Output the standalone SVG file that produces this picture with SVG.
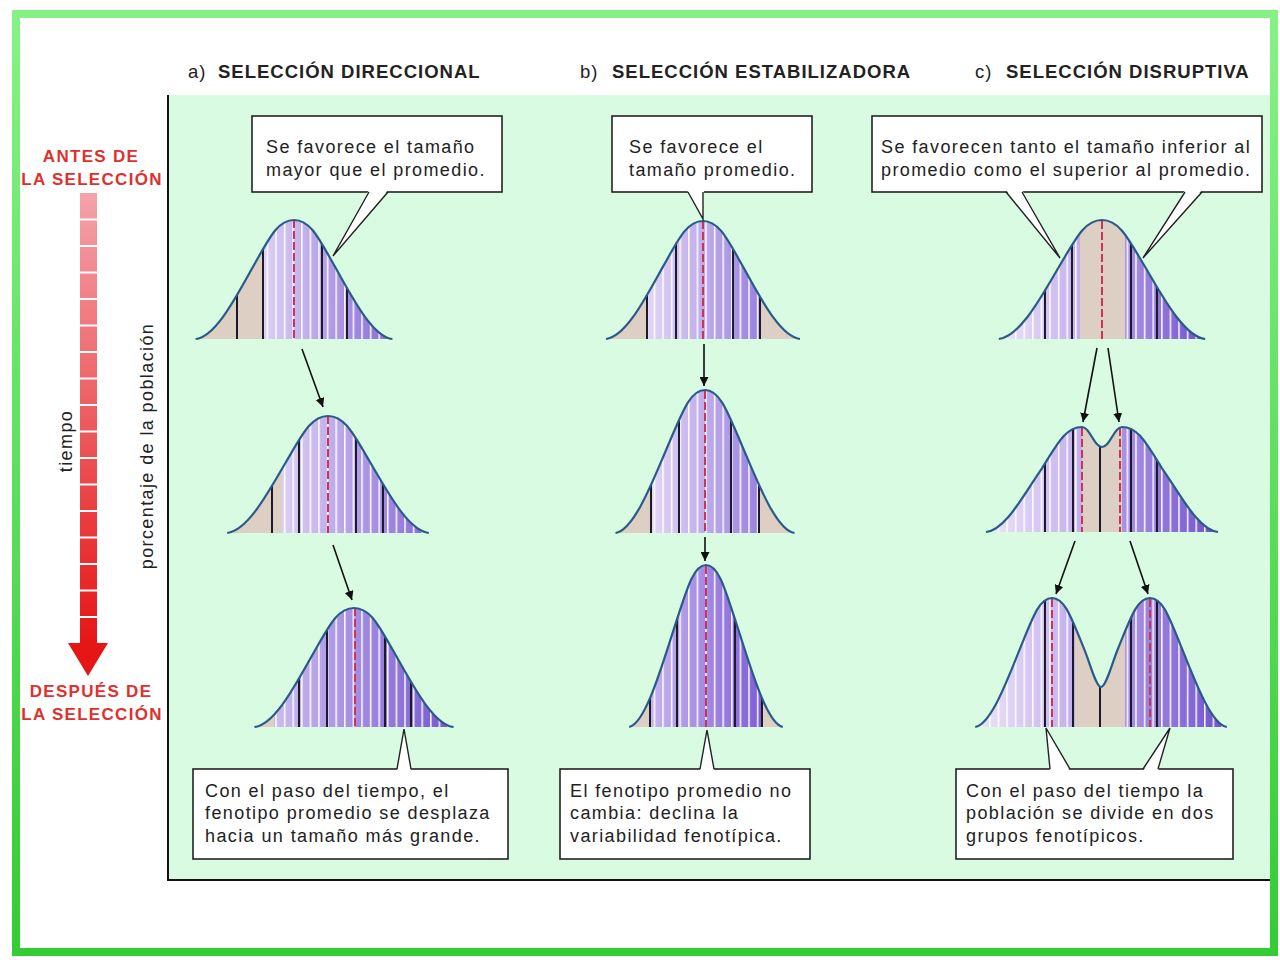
<svg xmlns="http://www.w3.org/2000/svg" xmlns:xlink="http://www.w3.org/1999/xlink" width="1280" height="960" viewBox="0 0 1280 960">
<style>
.hd{font-family:"Liberation Sans",Arial,sans-serif;font-size:18.5px;fill:#222;letter-spacing:1px}
.hb{font-weight:bold}
.red{font-family:"Liberation Sans",Arial,sans-serif;font-size:17px;font-weight:bold;fill:#e0302e;letter-spacing:1.3px;text-anchor:middle}
.lbl{font-family:"Liberation Sans",Arial,sans-serif;font-size:18px;fill:#222;letter-spacing:1.4px;text-anchor:middle}
.bt{font-family:"Liberation Sans",Arial,sans-serif;font-size:18px;fill:#222;letter-spacing:1.4px}
.box{fill:#fff;stroke:#222;stroke-width:1.6}
.tw{fill:#fff;stroke:none}
.tl{stroke:#222;stroke-width:1.4;fill:none}
.ol{fill:none;stroke:#2a5a88;stroke-width:2.2;stroke-linejoin:round}
.bk{stroke:#1a1a2a;stroke-width:2}
.dsh{stroke:#cc3355;stroke-width:2;stroke-dasharray:8 3}
.tan{fill:#ddcfc4}
.arr{stroke:#111;stroke-width:1.6;fill:none;marker-end:url(#ah)}
</style>
<defs>
<path id="g" d="M-2.4 0 C-1.9 0.02 -1.4 0.364 -1 0.607 C-0.6 0.85 -0.4 1 0 1 C0.4 1 0.6 0.85 1 0.607 C1.4 0.364 1.9 0.02 2.4 0" vector-effect="non-scaling-stroke"/>
<path id="bi2" d="M986 532 C1006 529.9 1024 493.8 1042 468.3 C1058 442.7 1066 427 1082 427 C1090 427 1094 447 1102 447 C1110 447 1114 427 1122 427 C1138 427 1146 442.7 1162 468.3 C1180 493.8 1198 529.9 1218 532"/>
<path id="bi3" d="M975.2 727 C991.2 724.4 1007.2 680 1020 648.7 C1032.8 617.3 1039.2 598 1052 598 C1064.8 598 1071.2 617.3 1084 648.7 C1090 663 1096 687 1101 687 C1106 687 1112 663 1118 648.7 C1130.8 617.3 1137.2 598 1150 598 C1162.8 598 1169.2 617.3 1182 648.7 C1194.8 680 1210.8 724.4 1226.8 727"/>
<clipPath id="ka1"><use href="#g" transform="translate(294,339) scale(41,-119)"/></clipPath>
<clipPath id="ka2"><use href="#g" transform="translate(328,533) scale(42,-117)"/></clipPath>
<clipPath id="ka3"><use href="#g" transform="translate(354,727) scale(41.5,-119)"/></clipPath>
<clipPath id="kb1"><use href="#g" transform="translate(703,339) scale(40.4,-118)"/></clipPath>
<clipPath id="kb2"><use href="#g" transform="translate(705,533) scale(37.3,-143)"/></clipPath>
<clipPath id="kb3"><use href="#g" transform="translate(706,727) scale(32,-162)"/></clipPath>
<clipPath id="kc1"><use href="#g" transform="translate(1102,339) scale(43,-119)"/></clipPath>
<clipPath id="kc2"><use href="#bi2"/></clipPath>
<clipPath id="kc3"><use href="#bi3"/></clipPath>
<linearGradient id="pA" x1="0" x2="1" y1="0" y2="0"><stop offset="0" stop-color="#dcd0f3"/><stop offset="1" stop-color="#8466d8"/></linearGradient>
<linearGradient id="pA3" x1="0" x2="1" y1="0" y2="0"><stop offset="0" stop-color="#cbbcef"/><stop offset="1" stop-color="#7252d0"/></linearGradient>
<linearGradient id="pB" x1="0" x2="1" y1="0" y2="0"><stop offset="0" stop-color="#e2d6f5"/><stop offset="1" stop-color="#9a82e0"/></linearGradient>
<linearGradient id="pB3" x1="0" x2="1" y1="0" y2="0"><stop offset="0" stop-color="#c6b4ee"/><stop offset="1" stop-color="#7f5ed6"/></linearGradient>
<linearGradient id="pL" x1="0" x2="1" y1="0" y2="0"><stop offset="0" stop-color="#f0e9fb"/><stop offset="1" stop-color="#c2aeec"/></linearGradient>
<linearGradient id="pR" x1="0" x2="1" y1="0" y2="0"><stop offset="0" stop-color="#aa92e4"/><stop offset="1" stop-color="#6d4ecc"/></linearGradient>
<linearGradient id="redg" x1="0" x2="0" y1="0" y2="1"><stop offset="0" stop-color="#f4a2aa"/><stop offset="1" stop-color="#e61616"/></linearGradient>
<linearGradient id="frame" x1="0" x2="0" y1="0" y2="1"><stop offset="0" stop-color="#86f286"/><stop offset="1" stop-color="#33cc33"/></linearGradient>
<pattern id="st" width="8.6" height="20" patternUnits="userSpaceOnUse"><rect x="0" y="0" width="1.6" height="20" fill="#fff" opacity="0.9"/></pattern>
<marker id="ah" viewBox="0 0 10 10" refX="10" refY="5" markerWidth="9" markerHeight="9" markerUnits="userSpaceOnUse" orient="auto"><path d="M0 0 L10 5 L0 10 z" fill="#111"/></marker>
</defs>

<rect x="0" y="0" width="1280" height="960" fill="#fff"/>
<rect id="frame-border" x="16" y="14" width="1258" height="938" fill="#fff" stroke="url(#frame)" stroke-width="8"/>

<!-- panel -->
<g id="panel">
<rect x="168" y="95" width="1102" height="785" fill="#d9fbe2"/>
<line x1="168" y1="95" x2="168" y2="881" stroke="#111" stroke-width="2"/>
<line x1="167" y1="880" x2="1270" y2="880" stroke="#111" stroke-width="2"/>
</g>

<!-- headings -->
<g id="headings">
<text class="hd" x="188" y="78">a) <tspan class="hb" x="218">SELECCIÓN DIRECCIONAL</tspan></text>
<text class="hd" x="580" y="78">b) <tspan class="hb" x="612">SELECCIÓN ESTABILIZADORA</tspan></text>
<text class="hd" x="975" y="78">c) <tspan class="hb" x="1006">SELECCIÓN DISRUPTIVA</tspan></text>
</g>

<!-- time axis -->
<g id="time-axis">
<text class="red" x="91" y="162">ANTES DE</text>
<text class="red" x="92" y="185">LA SELECCIÓN</text>
<rect x="80" y="193" width="17" height="450" fill="url(#redg)"/>
<g stroke="#fff" stroke-width="2">
<line x1="80" y1="219.5" x2="97" y2="219.5"/><line x1="80" y1="246" x2="97" y2="246"/><line x1="80" y1="272.5" x2="97" y2="272.5"/><line x1="80" y1="299" x2="97" y2="299"/><line x1="80" y1="325.5" x2="97" y2="325.5"/><line x1="80" y1="352" x2="97" y2="352"/><line x1="80" y1="378.5" x2="97" y2="378.5"/><line x1="80" y1="405" x2="97" y2="405"/><line x1="80" y1="431.5" x2="97" y2="431.5"/><line x1="80" y1="458" x2="97" y2="458"/><line x1="80" y1="484.5" x2="97" y2="484.5"/><line x1="80" y1="511" x2="97" y2="511"/><line x1="80" y1="537.5" x2="97" y2="537.5"/><line x1="80" y1="564" x2="97" y2="564"/><line x1="80" y1="590.5" x2="97" y2="590.5"/><line x1="80" y1="617" x2="97" y2="617"/>
</g>
<polygon points="68,643 108,643 88,676" fill="#e41616"/>
<text class="red" x="91" y="697">DESPUÉS DE</text>
<text class="red" x="92" y="720">LA SELECCIÓN</text>
<text class="lbl" transform="translate(72,441) rotate(-90)">tiempo</text>
<text class="lbl" transform="translate(153,446) rotate(-90)">porcentaje de la población</text>
</g>

<!-- curves a -->
<g id="curve-a1">
<g clip-path="url(#ka1)">
<rect class="tan" x="190" y="200" width="210" height="140"/>
<rect x="264" y="200" width="136" height="140" fill="url(#pA)"/>
<rect x="264" y="200" width="136" height="140" fill="url(#st)"/>
<line class="bk" x1="237" y1="200" x2="237" y2="340"/><line class="bk" x1="263" y1="200" x2="263" y2="340"/><line class="bk" x1="322" y1="200" x2="322" y2="340"/><line class="bk" x1="347" y1="200" x2="347" y2="340"/>
<line class="dsh" x1="294" y1="220" x2="294" y2="340"/>
</g>
<use href="#g" class="ol" transform="translate(294,339) scale(41,-119)"/>
</g>
<g id="curve-a2">
<g clip-path="url(#ka2)">
<rect class="tan" x="222" y="400" width="215" height="134"/>
<rect x="282" y="400" width="155" height="134" fill="url(#pA)"/>
<rect x="282" y="400" width="155" height="134" fill="url(#st)"/>
<line class="bk" x1="272" y1="400" x2="272" y2="534"/><line class="bk" x1="299" y1="400" x2="299" y2="534"/><line class="bk" x1="356" y1="400" x2="356" y2="534"/><line class="bk" x1="383" y1="400" x2="383" y2="534"/>
<line class="dsh" x1="328" y1="416" x2="328" y2="534"/>
</g>
<use href="#g" class="ol" transform="translate(328,533) scale(42,-117)"/>
</g>
<g id="curve-a3">
<g clip-path="url(#ka3)">
<rect class="tan" x="248" y="595" width="212" height="133"/>
<rect x="274" y="595" width="186" height="133" fill="url(#pA3)"/>
<rect x="274" y="595" width="186" height="133" fill="url(#st)"/>
<line class="bk" x1="299" y1="595" x2="299" y2="728"/><line class="bk" x1="327" y1="595" x2="327" y2="728"/><line class="bk" x1="385" y1="595" x2="385" y2="728"/><line class="bk" x1="411" y1="595" x2="411" y2="728"/>
<line class="dsh" x1="355" y1="608" x2="355" y2="728"/>
</g>
<use href="#g" class="ol" transform="translate(354,727) scale(41.5,-119)"/>
</g>

<!-- curves b -->
<g id="curve-b1">
<g clip-path="url(#kb1)">
<rect class="tan" x="600" y="200" width="210" height="140"/>
<rect x="647" y="200" width="113" height="140" fill="url(#pB)"/>
<rect x="647" y="200" width="113" height="140" fill="url(#st)"/>
<line class="bk" x1="647" y1="200" x2="647" y2="340" stroke-width="3"/><line class="bk" x1="676" y1="200" x2="676" y2="340"/><line class="bk" x1="733" y1="200" x2="733" y2="340"/><line class="bk" x1="760" y1="200" x2="760" y2="340"/>
<line class="dsh" x1="703" y1="221" x2="703" y2="340"/>
</g>
<use href="#g" class="ol" transform="translate(703,339) scale(40.4,-118)"/>
</g>
<g id="curve-b2">
<g clip-path="url(#kb2)">
<rect class="tan" x="610" y="385" width="192" height="149"/>
<rect x="651" y="385" width="108" height="149" fill="url(#pB)"/>
<rect x="651" y="385" width="108" height="149" fill="url(#st)"/>
<line class="bk" x1="651" y1="385" x2="651" y2="534"/><line class="bk" x1="679" y1="385" x2="679" y2="534"/><line class="bk" x1="731" y1="385" x2="731" y2="534"/><line class="bk" x1="759" y1="385" x2="759" y2="534"/>
<line class="dsh" x1="705" y1="391" x2="705" y2="534"/>
</g>
<use href="#g" class="ol" transform="translate(705,533) scale(37.3,-143)"/>
</g>
<g id="curve-b3">
<g clip-path="url(#kb3)">
<rect class="tan" x="620" y="560" width="170" height="168"/>
<rect x="650" y="560" width="112" height="168" fill="url(#pB3)"/>
<rect x="650" y="560" width="112" height="168" fill="url(#st)"/>
<line class="bk" x1="650" y1="560" x2="650" y2="728"/><line class="bk" x1="677" y1="560" x2="677" y2="728"/><line class="bk" x1="735" y1="560" x2="735" y2="728"/><line class="bk" x1="762" y1="560" x2="762" y2="728"/>
<line class="dsh" x1="706" y1="566" x2="706" y2="728"/>
</g>
<use href="#g" class="ol" transform="translate(706,727) scale(32,-162)"/>
</g>

<!-- curves c -->
<g id="curve-c1">
<g clip-path="url(#kc1)">
<rect class="tan" x="995" y="200" width="215" height="140"/>
<rect x="995" y="200" width="85" height="140" fill="url(#pL)"/>
<rect x="1125" y="200" width="85" height="140" fill="url(#pR)"/>
<rect x="995" y="200" width="85" height="140" fill="url(#st)"/>
<rect x="1125" y="200" width="85" height="140" fill="url(#st)"/>
<line class="bk" x1="1045" y1="200" x2="1045" y2="340"/><line class="bk" x1="1072" y1="200" x2="1072" y2="340"/><line class="bk" x1="1131" y1="200" x2="1131" y2="340"/><line class="bk" x1="1157" y1="200" x2="1157" y2="340"/>
<line class="dsh" x1="1102" y1="221" x2="1102" y2="340"/>
</g>
<use href="#g" class="ol" transform="translate(1102,339) scale(43,-119)"/>
</g>
<g id="curve-c2">
<g clip-path="url(#kc2)">
<rect class="tan" x="980" y="420" width="245" height="114"/>
<rect x="980" y="420" width="102" height="114" fill="url(#pL)"/>
<rect x="1122" y="420" width="100" height="114" fill="url(#pR)"/>
<rect x="980" y="420" width="102" height="114" fill="url(#st)"/>
<rect x="1122" y="420" width="100" height="114" fill="url(#st)"/>
<line class="bk" x1="1045" y1="420" x2="1045" y2="534"/><line class="bk" x1="1073" y1="420" x2="1073" y2="534"/><line class="bk" x1="1100" y1="420" x2="1100" y2="534"/><line class="bk" x1="1131" y1="420" x2="1131" y2="534"/><line class="bk" x1="1157" y1="420" x2="1157" y2="534"/>
<line class="dsh" x1="1082" y1="428" x2="1082" y2="534"/><line class="dsh" x1="1120" y1="428" x2="1120" y2="534"/>
</g>
<use href="#bi2" class="ol"/>
</g>
<g id="curve-c3">
<g clip-path="url(#kc3)">
<rect class="tan" x="970" y="590" width="262" height="138"/>
<rect x="970" y="590" width="105" height="138" fill="url(#pL)"/>
<rect x="1125" y="590" width="107" height="138" fill="url(#pR)"/>
<rect x="970" y="590" width="105" height="138" fill="url(#st)"/>
<rect x="1125" y="590" width="107" height="138" fill="url(#st)"/>
<line class="bk" x1="1045" y1="590" x2="1045" y2="728"/><line class="bk" x1="1073" y1="590" x2="1073" y2="728"/><line class="bk" x1="1100" y1="590" x2="1100" y2="728"/><line class="bk" x1="1131" y1="590" x2="1131" y2="728"/><line class="bk" x1="1157" y1="590" x2="1157" y2="728"/>
<line class="dsh" x1="1052" y1="599" x2="1052" y2="728"/><line class="dsh" x1="1150" y1="599" x2="1150" y2="728"/>
</g>
<use href="#bi3" class="ol"/>
</g>

<!-- connectors -->
<g id="connectors">
<line class="arr" x1="302" y1="349" x2="323" y2="407"/>
<line class="arr" x1="333" y1="545" x2="352" y2="600"/>
<line class="arr" x1="704" y1="344" x2="704" y2="386"/>
<line class="arr" x1="705" y1="537" x2="705" y2="561"/>
<line class="arr" x1="1097" y1="348" x2="1083" y2="422"/>
<line class="arr" x1="1108" y1="348" x2="1119" y2="422"/>
<line class="arr" x1="1075" y1="541" x2="1056" y2="594"/>
<line class="arr" x1="1130" y1="541" x2="1148" y2="594"/>
</g>

<!-- callout boxes -->
<g id="box-a-top">
<rect class="box" x="252" y="116" width="250" height="76"/>
<polygon class="tw" points="369,190 388,190 333,256"/>
<polyline class="tl" points="369,192 333,256 388,192"/>
<text class="bt" x="266" y="153">Se favorece el tamaño</text>
<text class="bt" x="266" y="176">mayor que el promedio.</text>
</g>
<g id="box-b-top">
<rect class="box" x="612" y="116" width="200" height="76"/>
<polygon class="tw" points="687,190 704,190 703,219"/>
<polyline class="tl" points="688,192 703,219 703,192"/>
<text class="bt" x="629" y="153">Se favorece el</text>
<text class="bt" x="629" y="176">tamaño promedio.</text>
</g>
<g id="box-c-top">
<rect class="box" x="872" y="116" width="390" height="76"/>
<polygon class="tw" points="1006,190 1022,190 1060,258"/>
<polyline class="tl" points="1006,192 1060,258 1022,192"/>
<polygon class="tw" points="1185,190 1202,190 1143,258"/>
<polyline class="tl" points="1185,192 1143,258 1202,192"/>
<text class="bt" x="881" y="153">Se favorecen tanto el tamaño inferior al</text>
<text class="bt" x="881" y="176">promedio como el superior al promedio.</text>
</g>
<g id="box-a-bottom">
<rect class="box" x="193" y="769" width="315" height="90"/>
<polygon class="tw" points="397,771 411,771 404,729"/>
<polyline class="tl" points="397,769 404,729 411,769"/>
<text class="bt" x="205" y="797">Con el paso del tiempo, el</text>
<text class="bt" x="205" y="819">fenotipo promedio se desplaza</text>
<text class="bt" x="205" y="842">hacia un tamaño más grande.</text>
</g>
<g id="box-b-bottom">
<rect class="box" x="560" y="769" width="250" height="90"/>
<polygon class="tw" points="700,771 714,771 707,730"/>
<polyline class="tl" points="700,769 707,730 714,769"/>
<text class="bt" x="570" y="797">El fenotipo promedio no</text>
<text class="bt" x="570" y="819">cambia: declina la</text>
<text class="bt" x="570" y="842">variabilidad fenotípica.</text>
</g>
<g id="box-c-bottom">
<rect class="box" x="956" y="769" width="277" height="90"/>
<polygon class="tw" points="1050,771 1070,771 1046,728"/>
<polyline class="tl" points="1050,769 1046,728 1070,769"/>
<polygon class="tw" points="1143,771 1158,771 1170,728"/>
<polyline class="tl" points="1143,769 1170,728 1158,769"/>
<text class="bt" x="966" y="797">Con el paso del tiempo la</text>
<text class="bt" x="966" y="819">población se divide en dos</text>
<text class="bt" x="966" y="842">grupos fenotípicos.</text>
</g>
</svg>
